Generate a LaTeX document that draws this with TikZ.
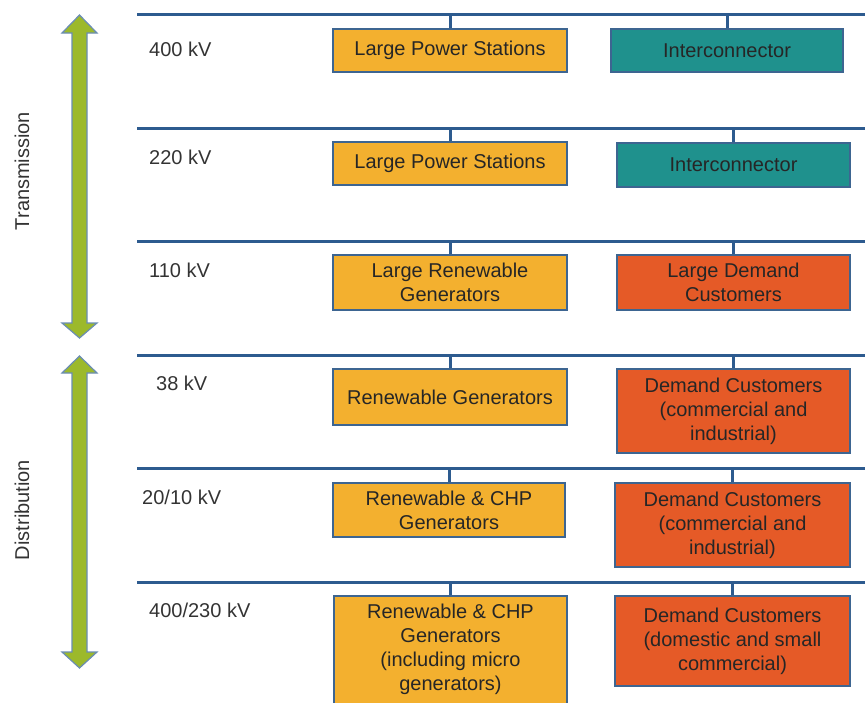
\documentclass[tikz,border=0pt]{standalone}
\usepackage{fontspec}
\setmainfont{Liberation Sans}
\definecolor{busblue}{HTML}{2D5B8F}
\definecolor{edgeblue}{HTML}{3D6591}
\definecolor{genyellow}{HTML}{F3B02F}
\definecolor{icteal}{HTML}{1F918D}
\definecolor{demorange}{HTML}{E55A27}
\definecolor{arrowgreen}{HTML}{9CB92B}
\definecolor{arrowedge}{HTML}{6A8DB3}
\definecolor{labgrey}{HTML}{333333}
\definecolor{boxtext}{HTML}{262626}
\tikzset{
  bus/.style={line width=3pt, draw=busblue},
  stub/.style={line width=3pt, draw=busblue},
  boxbase/.style={draw=edgeblue, line width=1.6pt, rectangle, align=center, text=boxtext, inner sep=0pt,
    font=\fontsize{20}{24}\selectfont, minimum width=234pt},
  gen/.style={boxbase, fill=genyellow},
  ic/.style={boxbase, fill=icteal},
  dem/.style={boxbase, fill=demorange},
  volt/.style={anchor=west, text=labgrey, font=\fontsize{20}{24}\selectfont, inner sep=0pt},
  side/.style={text=labgrey, font=\fontsize{20}{24}\selectfont, rotate=90, inner sep=0pt},
  bigarrow/.style={fill=arrowgreen, draw=arrowedge, line width=1.2pt, line join=miter}
}
\begin{document}
\begin{tikzpicture}[x=1pt, y=-1pt]
\useasboundingbox (0,0) rectangle (865,702);
% bus lines
\foreach \i/\y in {1/14,2/128,3/241,4/355,5/468,6/582}{
  \coordinate (b\i L) at (137,\y);
  \coordinate (b\i R) at (866,\y);
  \draw[bus] (b\i L) -- (b\i R);
}
% boxes
\node[gen, minimum height=43pt] (g1) at (450,50.5) {Large Power Stations};
\node[ic, minimum height=43pt, minimum width=232pt] (r1) at (727,50.5) {Interconnector};
\node[gen, minimum height=43pt] (g2) at (450,163.5) {Large Power Stations};
\node[ic, minimum height=44pt, minimum width=233pt] (r2) at (733.5,165) {Interconnector};
\node[gen, minimum height=55pt] (g3) at (450,282.5) {Large Renewable\\Generators};
\node[dem, minimum height=55pt, minimum width=233pt] (r3) at (733.5,282.5) {Large Demand\\Customers};
\node[gen, minimum height=56pt] (g4) at (450,397) {Renewable Generators};
\node[dem, minimum height=84pt, minimum width=233pt] (r4) at (733.5,411) {Demand Customers\\(commercial and\\industrial)};
\node[gen, minimum height=54pt, minimum width=232pt] (g5) at (449,510) {Renewable \& CHP\\Generators};
\node[dem, minimum height=84pt, minimum width=235pt] (r5) at (732.5,525) {Demand Customers\\(commercial and\\industrial)};
\node[gen, minimum height=114pt, minimum width=233pt, text depth=0pt] (g6) at (450.5,653) {};
\node[align=center, text=boxtext, font=\fontsize{20}{24}\selectfont, inner sep=0pt] (g6t) at (450.5,649) {Renewable \& CHP\\Generators\\(including micro\\generators)};
\node[dem, minimum height=90pt, minimum width=235pt] (r6) at (732.5,641) {Demand Customers\\(domestic and small\\commercial)};
% stubs
\foreach \n/\b in {g1/b1L,r1/b1L,g2/b2L,r2/b2L,g3/b3L,r3/b3L,g4/b4L,r4/b4L,g5/b5L,r5/b5L,g6/b6L,r6/b6L}{
  \draw[stub] (\n.north) -- (\n.north |- \b);
}
% voltage labels
\node[volt] (v1) at (149,49) {400 kV};
\node[volt] (v2) at (149,157) {220 kV};
\node[volt] (v3) at (149,270) {110 kV};
\node[volt] (v4) at (156,383) {38 kV};
\node[volt] (v5) at (142,497) {20/10 kV};
\node[volt] (v6) at (149,610) {400/230 kV};
% arrows
\draw[bigarrow] (79.5,15) -- (97,33) -- (87,33) -- (87,323) -- (97,323) -- (79.5,338)
  -- (62,323) -- (72,323) -- (72,33) -- (62,33) -- cycle;
\draw[bigarrow] (79.5,356) -- (97,373) -- (87,373) -- (87,652) -- (97,652) -- (79.5,668)
  -- (62,652) -- (72,652) -- (72,373) -- (62,373) -- cycle;
\node[side] (tr) at (22,171) {Transmission};
\node[side] (di) at (22,510) {Distribution};
\end{tikzpicture}
\end{document}
